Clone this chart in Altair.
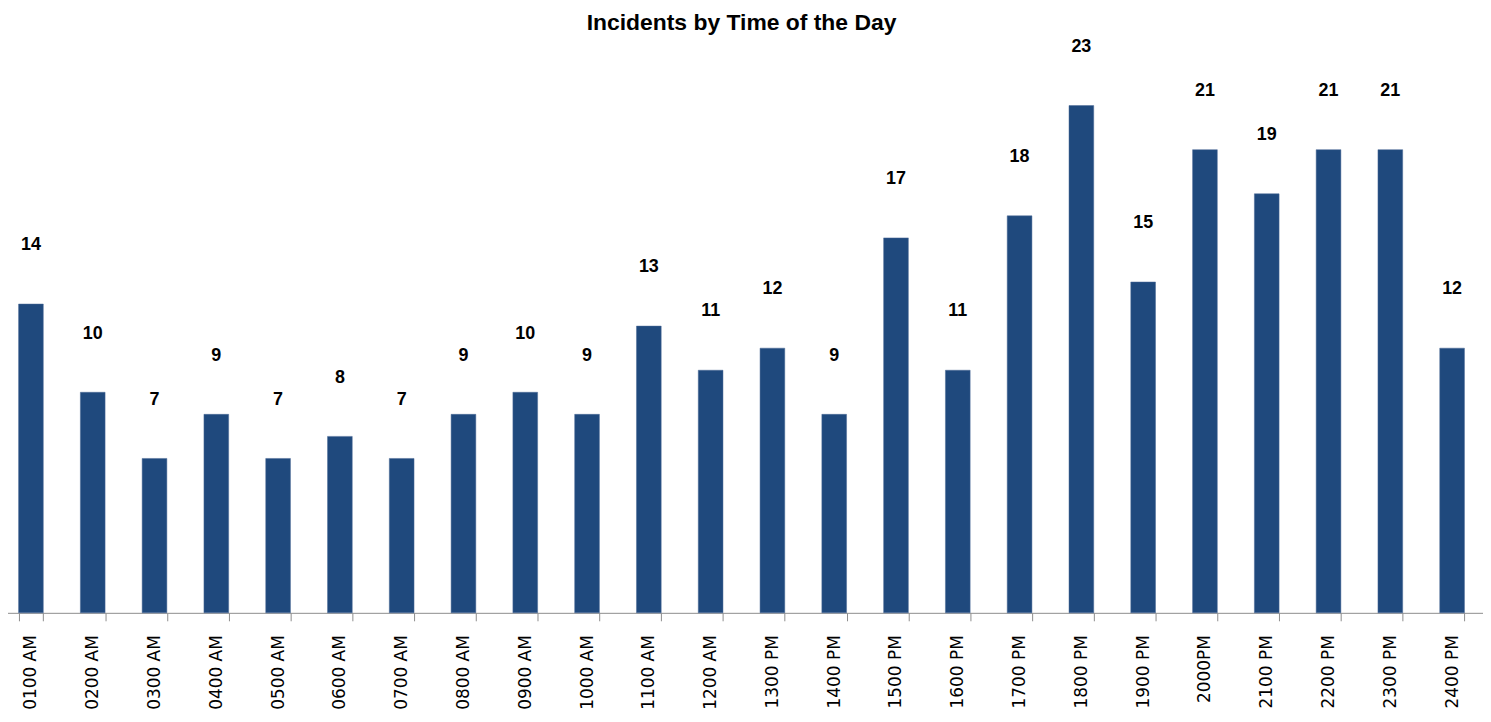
import altair as alt
import pandas as pd

hours = ["0100 AM", "0200 AM", "0300 AM", "0400 AM", "0500 AM", "0600 AM",
         "0700 AM", "0800 AM", "0900 AM", "1000 AM", "1100 AM", "1200 AM",
         "1300  PM", "1400 PM", "1500 PM", "1600 PM", "1700 PM", "1800 PM",
         "1900 PM", "2000PM", "2100 PM", "2200 PM", "2300 PM", "2400 PM"]
incidents = [14, 10, 7, 9, 7, 8, 7, 9, 10, 9, 13, 11,
             12, 9, 17, 11, 18, 23, 15, 21, 19, 21, 21, 12]

df = pd.DataFrame({"hour": hours, "incidents": incidents})

x = alt.X("hour:N", sort=hours, title=None,
          scale=alt.Scale(paddingInner=0.6, paddingOuter=0.3),
          axis=alt.Axis(labelAngle=-90, labelAlign="right", labelBaseline="middle",
                        labelFont="DejaVu Sans", labelFontSize=17, labelColor="#000000",
                        labelPadding=14, tickBand="extent", tickSize=8,
                        tickColor="#8c8c8c", domainColor="#8c8c8c", grid=False))
y = alt.Y("incidents:Q", title=None, scale=alt.Scale(domain=[0, 25], nice=False),
          axis=None)

base = alt.Chart(df).encode(x=x, y=y)

bars = base.mark_bar(color="#1F497D", stroke="#4a6a95", strokeWidth=0.5)
labels = base.mark_text(dy=-59, baseline="middle", font="Liberation Sans",
                        fontWeight="bold", fontSize=18, color="#000000").encode(
    text="incidents:Q")

chart = (bars + labels).properties(
    width=1490, height=554,
    title=alt.TitleParams("Incidents by Time of the Day", font="Liberation Sans",
                          fontSize=23, fontWeight="bold", color="#000000",
                          baseline="bottom", offset=4, dy=24, anchor="middle"),
    autosize=alt.AutoSizeParams(type="none"),
    padding={"left": -8, "top": 52, "right": 0, "bottom": 110},
).configure_view(stroke=None)

chart.save("out.html", embed_options={"renderer": "svg", "actions": False})
